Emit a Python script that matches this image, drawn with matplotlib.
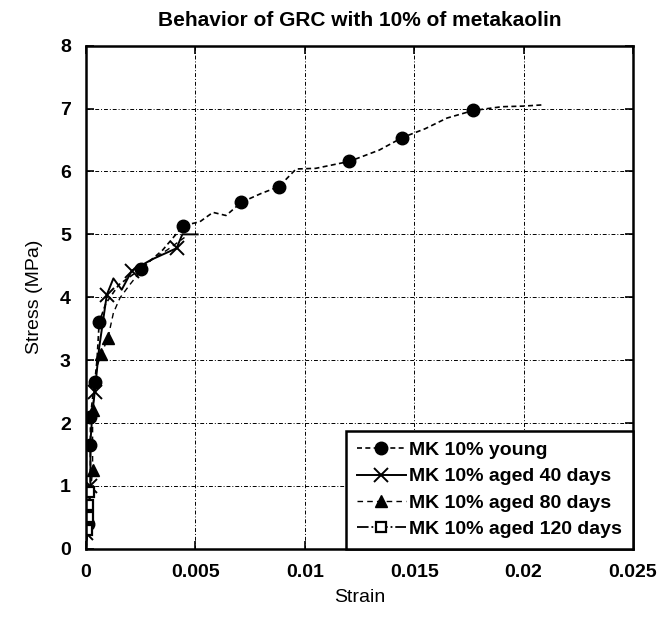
import numpy as np
import matplotlib
matplotlib.use('Agg')
import matplotlib.pyplot as plt

plt.rcParams['font.family'] = ['Liberation Sans', 'DejaVu Sans']

# MK 10% young (circles)
young_x = [0, 0.0001, 0.0002, 0.0002, 0.0002, 0.0003, 0.0004, 0.0005, 0.0006, 0.0009, 0.0015,
           0.0025, 0.0035, 0.00445, 0.0052, 0.0058, 0.0064, 0.0071, 0.0080, 0.00882, 0.0096,
           0.0105, 0.01203, 0.0134, 0.01446, 0.0155, 0.0165, 0.0177, 0.0190, 0.0200, 0.0209]
young_y = [0, 0.4, 1.0, 1.65, 2.1, 2.4, 2.65, 3.0, 3.6, 3.9, 4.2,
           4.45, 4.75, 5.14, 5.2, 5.35, 5.3, 5.51, 5.65, 5.76, 6.04,
           6.05, 6.16, 6.34, 6.54, 6.68, 6.85, 6.97, 7.03, 7.04, 7.06]
young_marks = [1, 3, 4, 6, 8, 11, 13, 17, 19, 22, 24, 27]

# MK 10% aged 40 days (crosses)
d40_x = [0, 0.0001, 0.0002, 0.0002, 0.0003, 0.0004, 0.0006, 0.00095, 0.00125, 0.00163,
         0.00209, 0.0030, 0.00414, 0.0044, 0.0051]
d40_y = [0.25, 0.6, 1.0, 1.7, 2.2, 2.5, 3.2, 4.04, 4.30, 4.12,
         4.42, 4.6, 4.78, 5.0, 5.0]
d40_marks = [0, 2, 5, 7, 10, 12]

# MK 10% aged 80 days (triangles)
d80_x = [0, 0.0001, 0.0002, 0.0003, 0.0003, 0.0005, 0.0007, 0.0010, 0.00125, 0.00155,
         0.0020, 0.0028, 0.0037, 0.0045]
d80_y = [0, 0.5, 0.9, 1.25, 2.2, 2.9, 3.1, 3.35, 3.75, 3.99,
         4.2, 4.55, 4.75, 4.95]
d80_marks = [1, 3, 4, 6, 7]

# MK 10% aged 120 days (squares)
d120_x = [0, 0.00005, 0.0001, 0.0001, 0.00012]
d120_y = [0, 0.3, 0.5, 0.7, 0.9]
d120_marks = [1, 2, 3, 4]

fig = plt.figure(figsize=(6.67, 6.18), dpi=100)
ax = fig.add_axes([0.129, 0.112, 0.820, 0.814])

ax.plot(young_x, young_y, color='black', lw=1.2, ls=(0, (3, 2)), marker='o', ms=9,
        markevery=young_marks, label='MK 10% young')
ax.plot(d40_x, d40_y, color='black', lw=1.4, ls='-', marker='x', ms=10, mew=1.4,
        markevery=d40_marks, label='MK 10% aged 40 days')
ax.plot(d80_x, d80_y, color='black', lw=1.0, ls=(0, (4, 3)), marker='^', ms=8,
        markevery=d80_marks, label='MK 10% aged 80 days')
ax.plot(d120_x, d120_y, color='black', lw=1.3, ls='-.', marker='s', ms=7, mfc='white',
        mew=1.6, markevery=d120_marks, label='MK 10% aged 120 days')

ax.set_xlim(0, 0.025)
ax.set_ylim(0, 8)
ax.set_xticks([0, 0.005, 0.01, 0.015, 0.02, 0.025])
ax.set_xticklabels(['0', '0.005', '0.01', '0.015', '0.02', '0.025'])
ax.set_yticks(range(0, 9))
ax.grid(True, color='black', lw=0.7, ls=(0, (4, 2, 1, 2)))
ax.tick_params(direction='in', top=True, right=True, length=6, width=1.2,
               labelsize=14, pad=11)
for lab in ax.get_xticklabels() + ax.get_yticklabels():
    lab.set_fontweight('bold')
for s in ax.spines.values():
    s.set_linewidth(1.8)

ax.set_xlabel('Strain', fontsize=14, labelpad=6)
ax.set_ylabel('Stress (MPa)', fontsize=14, labelpad=12)
ax.set_title('Behavior of GRC with 10% of metakaolin', fontsize=15, fontweight='bold', pad=14)

leg = ax.legend(loc='lower right', borderaxespad=0, fancybox=False, framealpha=1,
                edgecolor='black', prop={'size': 14, 'weight': 'bold'},
                handlelength=2.5, handletextpad=0.2, labelspacing=0.45,
                borderpad=0.55)
leg.get_frame().set_linewidth(1.8)

fig.savefig('out.png', dpi=100)
